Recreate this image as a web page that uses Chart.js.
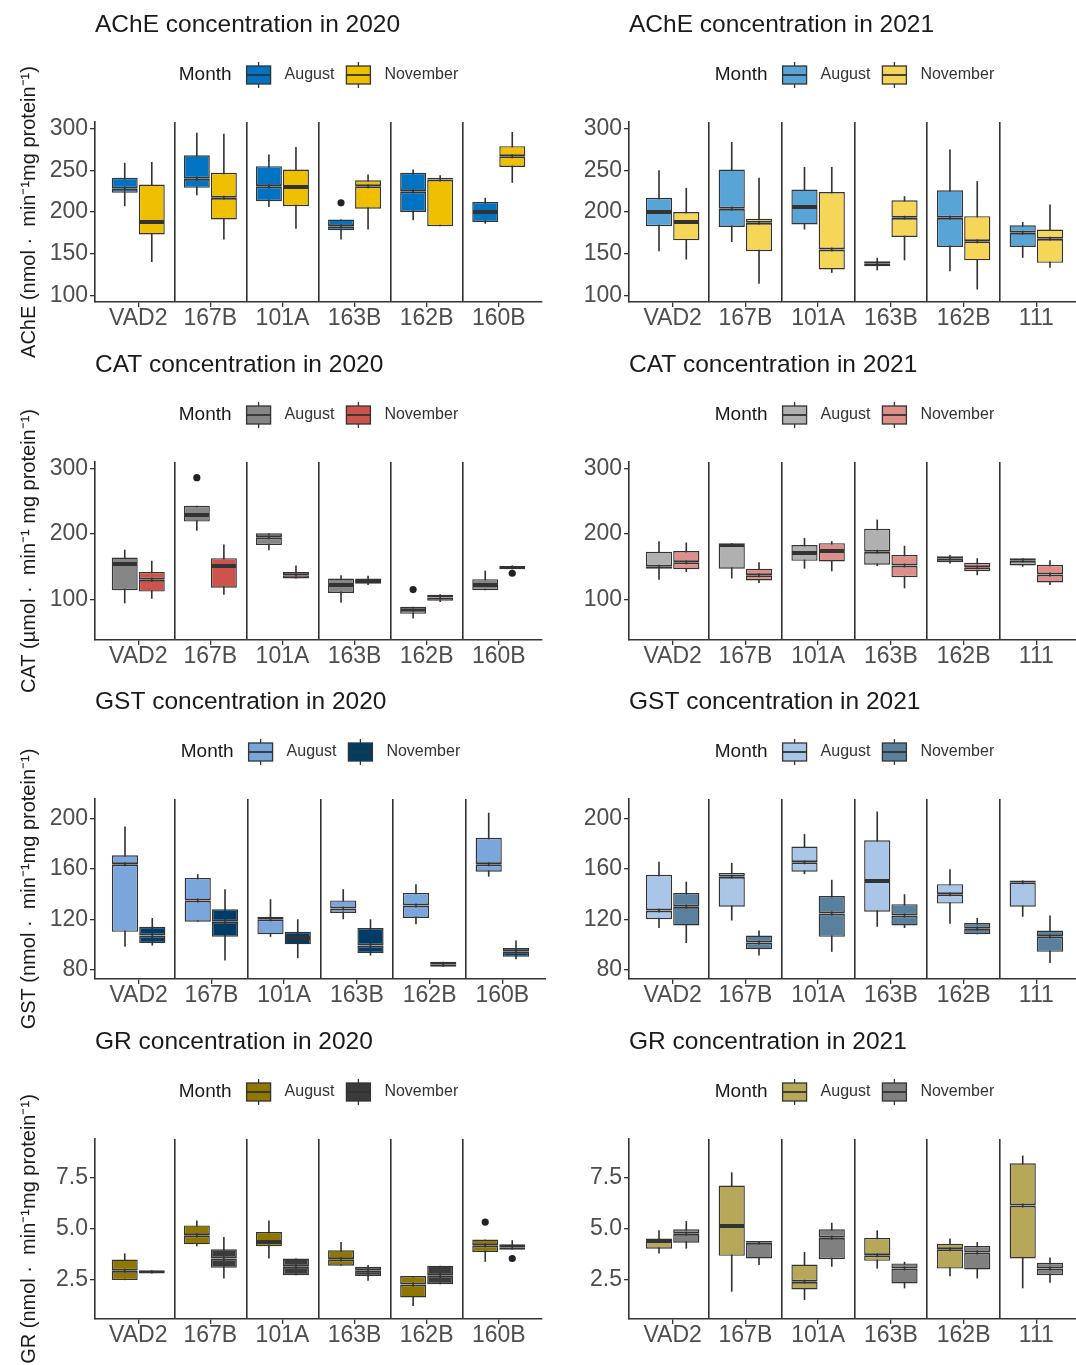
<!DOCTYPE html>
<html>
<head>
<meta charset="utf-8">
<title>Enzyme concentrations 2020 - 2021</title>
<script src="https://cdn.jsdelivr.net/npm/chart.js@4.4.1/dist/chart.umd.min.js"></script>
<style>
  body { margin: 0; width: 1076px; height: 1365px; overflow: hidden; position: relative; background: #ffffff; }
  canvas { position: absolute; }
</style>
</head>
<body>
<script>
var sites2020 = ['VAD2', '167B', '101A', '163B', '162B', '160B'];
var sites2021 = ['VAD2', '167B', '101A', '163B', '162B', '111'];
var months = ['August', 'November'];

// each site: [lower whisker, Q1, median, Q3, upper whisker]
var ache2020Aug = [[207, 223, 228, 241, 259], [220, 229, 240, 268, 295], [206, 213, 231, 255, 269], [167, 178, 183, 191, 191], [190, 200, 225, 247, 251], [186, 188, 200, 212, 217]];
var ache2020Nov = [[140, 173, 188, 233, 260], [167, 191, 217, 247, 294], [180, 207, 230, 251, 278], [179, 204, 231, 238, 245], [183, 183, 239, 241, 244], [235, 254, 267, 279, 296]];
var ache2021Aug = [[153, 183, 200, 217, 250], [164, 182, 204, 251, 284], [179, 185, 206, 227, 254], [130, 135, 138, 141, 145], [129, 158, 193, 226, 275], [145, 158, 175, 184, 188]];
var ache2021Nov = [[143, 166, 188, 200, 229], [114, 153, 187, 192, 241], [127, 131, 155, 224, 254], [142, 170, 193, 214, 219], [107, 142, 165, 195, 237], [133, 139, 168, 179, 209]];

var cat2020Aug = [[94, 114, 154, 164, 176], [205, 219, 229, 243, 243], [175, 183, 195, 201, 201], [95, 110, 122, 132, 137], [71, 78, 84, 89, 89], [114, 114, 122, 131, 144]];
var cat2020Nov = [[101, 112, 130, 142, 159], [107, 118, 151, 163, 184], [132, 132, 137, 142, 152], [122, 124, 128, 132, 136], [96, 98, 103, 107, 108], [146, 146, 148, 151, 152]];
var cat2021Aug = [[130, 147, 150, 173, 189], [132, 147, 183, 186, 186], [147, 159, 171, 183, 194], [151, 153, 173, 208, 222], [155, 157, 162, 166, 168], [150, 152, 159, 163, 163]];
var cat2021Nov = [[142, 146, 157, 174, 187], [125, 129, 137, 147, 157], [143, 158, 174, 186, 189], [117, 134, 152, 168, 182], [137, 143, 149, 156, 163], [122, 126, 138, 153, 160]];

var gst2020Aug = [[98, 110, 164, 171, 194], [118, 118, 135, 153, 156], [106, 108, 120, 122, 136], [120, 125, 128.5, 135, 144], [116, 121, 131, 141, 148], [154, 158, 164, 185, 205]];
var gst2020Nov = [[99, 101, 107, 114, 121], [87, 106, 118, 128, 144], [89, 100, 105, 110, 120], [91, 93, 99, 113, 120], [82, 82, 84, 86, 86], [88, 90, 94, 97, 103]];
var gst2021Aug = [[113, 120, 127, 155.5, 166], [119, 130, 154, 157, 165], [156, 158, 165.5, 178, 188], [114, 126, 150.5, 183, 206], [116.5, 132.5, 140, 148, 160], [122, 130, 149.5, 151, 151]];
var gst2021Nov = [[101, 115, 130, 141, 150], [91, 96, 101.5, 107, 111], [94, 106, 124.5, 138.5, 151.5], [113, 115, 123, 132, 140], [108, 108, 112.5, 117, 121], [85, 94, 106.5, 111, 123]];

var gr2020Aug = [[2.5, 2.5, 2.95, 3.5, 3.8], [4.15, 4.24, 4.68, 5.16, 5.4], [3.55, 4.15, 4.35, 4.84, 5.4], [3.2, 3.2, 3.52, 3.95, 4.35], [1.24, 1.66, 2.29, 2.7, 2.7], [3.39, 3.87, 4.2, 4.47, 4.47]];
var gr2020Nov = [[2.82, 2.82, 2.9, 2.98, 2.98], [2.58, 3.1, 3.55, 4.0, 4.6], [2.74, 2.74, 3.15, 3.55, 3.55], [2.47, 2.7, 2.95, 3.15, 3.23], [2.3, 2.3, 2.74, 3.2, 3.2], [3.98, 3.98, 4.1, 4.24, 4.44]];
var gr2021Aug = [[3.79, 4.03, 4.4, 4.52, 4.92], [1.94, 3.68, 5.13, 7.1, 7.74], [1.53, 2.05, 2.42, 3.26, 3.87], [3.06, 3.44, 3.71, 4.55, 4.92], [2.69, 3.06, 4.0, 4.27, 4.52], [2.1, 3.55, 6.13, 8.18, 8.55]];
var gr2021Nov = [[4.03, 4.32, 4.76, 4.97, 5.37], [3.23, 3.55, 4.32, 4.4, 4.4], [3.15, 3.52, 4.56, 4.97, 5.29], [2.1, 2.34, 3.06, 3.31, 3.39], [2.58, 3.02, 3.84, 4.16, 4.35], [2.37, 2.74, 3.06, 3.34, 3.6]];

// outliers: [site index, value]
var ache2020AugOut = [[3, 211]];
var cat2020AugOut = [[1, 286], [4, 115]];
var cat2020NovOut = [[5, 140]];
var gr2020AugOut = [[5, 5.32]];
var gr2020NovOut = [[5, 3.55]];

var acheTicks = [100, 150, 200, 250, 300];
var catTicks = [100, 200, 300];
var gstTicks = [80, 120, 160, 200];
var grTicks = [2.5, 5.0, 7.5];

var jco = ['#0073C2', '#EFC000', '#868686', '#CD534C', '#7AA6DC', '#003C67', '#8F7700', '#3B3B3B'];

Chart.defaults.font.family = '"Liberation Sans", Arial, sans-serif';
Chart.defaults.color = '#4d4d4d';

var rowTops = [0, 340, 677, 1017];
var rowHeights = [380, 380, 380, 348];
var plotBottoms = [302, 300, 302, 302];
var plotTop = 122;
var catPct = 0.75;
var dodge = catPct / 4;

// lighter 2021 fill: colour at 65% over white
function blend(hex, a) {
    var n = parseInt(hex.slice(1), 16);
    var mix = function (c) { return Math.round(255 - (255 - c) * a); };
    return 'rgb(' + mix(n >> 16) + ',' + mix((n >> 8) & 255) + ',' + mix(n & 255) + ')';
}

function drawKey(ctx, x, y, w, h, color) {
    ctx.strokeStyle = '#333333';
    ctx.lineWidth = 1.3;
    ctx.beginPath();
    ctx.moveTo(x + w / 2, y - h / 2 - 4);
    ctx.lineTo(x + w / 2, y + h / 2 + 4);
    ctx.stroke();
    ctx.fillStyle = color;
    ctx.fillRect(x, y - h / 2, w, h);
    ctx.strokeRect(x, y - h / 2, w, h);
    ctx.lineWidth = 1.8;
    ctx.beginPath();
    ctx.moveTo(x, y);
    ctx.lineTo(x + w, y);
    ctx.stroke();
}

// panel title and "Month" legend, placed relative to the chart area
var header = {
    id: 'header',
    afterDraw: function (chart, args, opts) {
        var ctx = chart.ctx;
        var area = chart.chartArea;
        ctx.save();
        ctx.textBaseline = 'middle';
        ctx.textAlign = 'left';
        ctx.fillStyle = '#1a1a1a';
        ctx.font = '24.5px "Liberation Sans", Arial, sans-serif';
        ctx.fillText(opts.title, area.left, 25);

        var keyW = 24, keyH = 18, y = 75;
        ctx.font = '19px "Liberation Sans", Arial, sans-serif';
        var wMonth = ctx.measureText('Month').width;
        ctx.font = '16px "Liberation Sans", Arial, sans-serif';
        var wA = ctx.measureText(months[0]).width;
        var wN = ctx.measureText(months[1]).width;
        var total = wMonth + 15 + keyW + 14 + wA + 12 + keyW + 14 + wN;
        var x = (area.left + area.right) / 2 - total / 2;
        ctx.font = '19px "Liberation Sans", Arial, sans-serif';
        ctx.fillText('Month', x, y);
        x += wMonth + 15;
        ctx.font = '16px "Liberation Sans", Arial, sans-serif';
        for (var k = 0; k < 2; k++) {
            drawKey(ctx, x, y, keyW, keyH, opts.colors[k]);
            x += keyW + 14;
            ctx.fillStyle = '#333333';
            ctx.fillText(months[k], x, y);
            x += (k === 0 ? wA : wN) + 12;
        }
        ctx.restore();
    }
};

// box split at the median so the two inner borders form the thick median line
function groupDatasets(stats, color, stack) {
    return [{
        label: stack + ' Q1-median',
        data: stats.map(function (s, i) { return { x: i, y: [s[1], s[2]] }; }),
        backgroundColor: color,
        borderColor: '#333333',
        borderWidth: { top: 2.0, bottom: 1.4, left: 1.4, right: 1.4 },
        borderSkipped: false,
        stack: stack,
        order: 1,
        categoryPercentage: catPct,
        barPercentage: 0.96
    }, {
        label: stack + ' median-Q3',
        data: stats.map(function (s, i) { return { x: i, y: [s[2], s[3]] }; }),
        backgroundColor: color,
        borderColor: '#333333',
        borderWidth: { top: 1.4, bottom: 2.0, left: 1.4, right: 1.4 },
        borderSkipped: false,
        stack: stack,
        order: 1,
        categoryPercentage: catPct,
        barPercentage: 0.96
    }];
}

function whiskerDataset(stats, stack) {
    return {
        label: stack + ' whiskers',
        data: stats.map(function (s, i) { return { x: i, y: [s[0], s[4]] }; }),
        backgroundColor: '#333333',
        stack: stack,
        order: 2,
        categoryPercentage: catPct,
        barPercentage: 0.06
    };
}

function outlierDataset(points, shift) {
    return {
        type: 'scatter',
        label: 'outliers',
        data: points.map(function (p) { return { x: p[0] + shift, y: p[1] }; }),
        pointRadius: 3.6,
        pointBackgroundColor: '#222222',
        pointBorderWidth: 0,
        order: 0
    };
}

var axes = [
    { min: 92, max: 308, ticks: acheTicks, decimals: 0, title: 'AChE (nmol ·  min⁻¹mg protein⁻¹)' },
    { min: 38, max: 310, ticks: catTicks, decimals: 0, title: 'CAT (µmol ·  min⁻¹ mg protein⁻¹)' },
    { min: 72.3, max: 216, ticks: gstTicks, decimals: 0, title: 'GST (nmol ·  min⁻¹mg protein⁻¹)' },
    { min: 0.61, max: 9.36, ticks: grTicks, decimals: 1, title: 'GR (nmol ·  min⁻¹mg protein⁻¹)' }
];

var panels = [
    { title: 'AChE concentration in 2020', row: 0, col: 0, sites: sites2020, aug: ache2020Aug, nov: ache2020Nov, augOut: ache2020AugOut, novOut: [], colors: [jco[0], jco[1]] },
    { title: 'AChE concentration in 2021', row: 0, col: 1, sites: sites2021, aug: ache2021Aug, nov: ache2021Nov, augOut: [], novOut: [], colors: [blend(jco[0], 0.65), blend(jco[1], 0.65)] },
    { title: 'CAT concentration in 2020', row: 1, col: 0, sites: sites2020, aug: cat2020Aug, nov: cat2020Nov, augOut: cat2020AugOut, novOut: cat2020NovOut, colors: [jco[2], jco[3]] },
    { title: 'CAT concentration in 2021', row: 1, col: 1, sites: sites2021, aug: cat2021Aug, nov: cat2021Nov, augOut: [], novOut: [], colors: [blend(jco[2], 0.65), blend(jco[3], 0.65)] },
    { title: 'GST concentration in 2020', row: 2, col: 0, sites: sites2020, aug: gst2020Aug, nov: gst2020Nov, augOut: [], novOut: [], colors: [jco[4], jco[5]] },
    { title: 'GST concentration in 2021', row: 2, col: 1, sites: sites2021, aug: gst2021Aug, nov: gst2021Nov, augOut: [], novOut: [], colors: [blend(jco[4], 0.65), blend(jco[5], 0.65)] },
    { title: 'GR concentration in 2020', row: 3, col: 0, sites: sites2020, aug: gr2020Aug, nov: gr2020Nov, augOut: gr2020AugOut, novOut: gr2020NovOut, colors: [jco[6], jco[7]] },
    { title: 'GR concentration in 2021', row: 3, col: 1, sites: sites2021, aug: gr2021Aug, nov: gr2021Nov, augOut: [], novOut: [], colors: [blend(jco[6], 0.65), blend(jco[7], 0.65)] }
];

panels.forEach(function (p) {
    var yAxis = axes[p.row];
    var height = rowHeights[p.row];
    var xAxisHeight = height - plotBottoms[p.row];
    var canvas = document.createElement('canvas');
    canvas.width = p.col === 0 ? 546 : 540;
    canvas.height = height;
    canvas.style.left = (p.col === 0 ? 0 : 540) + 'px';
    canvas.style.top = rowTops[p.row] + 'px';
    document.body.appendChild(canvas);

    var n = p.sites.length;
    var datasets = []
        .concat(groupDatasets(p.aug, p.colors[0], 'August'))
        .concat(groupDatasets(p.nov, p.colors[1], 'November'))
        .concat([whiskerDataset(p.aug, 'August'), whiskerDataset(p.nov, 'November')]);
    if (p.augOut.length) datasets.push(outlierDataset(p.augOut, -dodge));
    if (p.novOut.length) datasets.push(outlierDataset(p.novOut, dodge));

    new Chart(canvas.getContext('2d'), {
        type: 'bar',
        data: { datasets: datasets },
        options: {
            responsive: false,
            animation: false,
            devicePixelRatio: 1,
            events: [],
            layout: { padding: { top: plotTop, left: 0, right: 0, bottom: 0 } },
            plugins: {
                legend: { display: false },
                tooltip: { enabled: false },
                header: { title: p.title, colors: p.colors }
            },
            scales: {
                x: {
                    type: 'linear',
                    min: -0.6,
                    max: n - 0.4,
                    bounds: 'data',
                    offset: false,
                    afterBuildTicks: function (s) { s.ticks = p.sites.map(function (name, i) { return { value: i }; }); },
                    afterFit: function (s) { s.height = xAxisHeight; },
                    ticks: {
                        autoSkip: false, maxRotation: 0, minRotation: 0, padding: 0,
                        font: { size: 23, lineHeight: 1 }, color: '#4d4d4d',
                        callback: function (v) { return p.sites[v]; }
                    },
                    grid: { offset: false, drawOnChartArea: false, drawTicks: true, tickLength: 5, color: '#333333', lineWidth: 1.3 },
                    border: { display: true, color: '#333333', width: 1.6 }
                },
                sep: {
                    type: 'linear',
                    position: 'top',
                    min: -0.6,
                    max: n - 0.4,
                    bounds: 'data',
                    offset: false,
                    afterBuildTicks: function (s) {
                        s.ticks = p.sites.slice(1).map(function (name, i) { return { value: i + 0.5 }; });
                    },
                    afterFit: function (s) { s.height = 0; },
                    ticks: { display: false },
                    grid: { offset: false, drawOnChartArea: true, drawTicks: false, color: '#333333', lineWidth: 1.6 },
                    border: { display: false }
                },
                y: {
                    type: 'linear',
                    min: yAxis.min,
                    max: yAxis.max,
                    bounds: 'data',
                    beginAtZero: false,
                    stacked: false,
                    afterBuildTicks: function (s) { s.ticks = yAxis.ticks.map(function (v) { return { value: v }; }); },
                    afterFit: function (s) { s.width = p.col === 0 ? 95 : 89; },
                    ticks: {
                        padding: 2, font: { size: 23 }, color: '#4d4d4d',
                        callback: function (v) { return yAxis.decimals ? v.toFixed(yAxis.decimals) : String(v); }
                    },
                    grid: { drawOnChartArea: false, drawTicks: true, tickLength: 5, color: '#333333', lineWidth: 1.3 },
                    border: { display: true, color: '#333333', width: 1.6 },
                    title: {
                        display: p.col === 0,
                        text: yAxis.title,
                        color: '#1a1a1a',
                        font: { size: 20 },
                        padding: { top: 17, bottom: 0 }
                    }
                }
            }
        },
        plugins: [header]
    });
});
</script>
</body>
</html>
